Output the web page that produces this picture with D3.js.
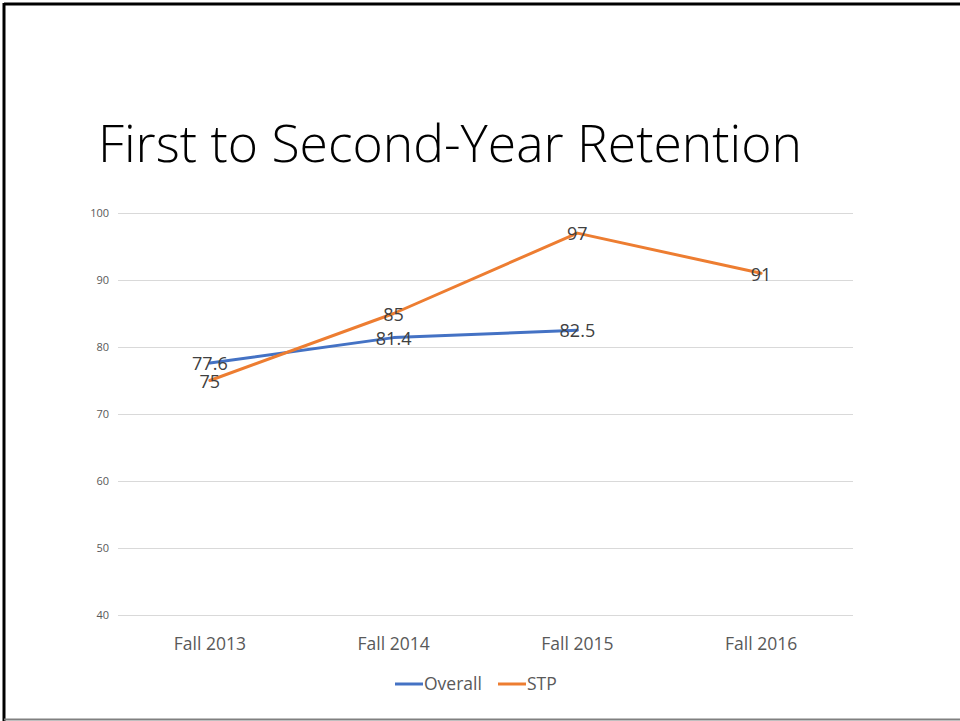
<!DOCTYPE html>
<html><head><meta charset="utf-8">
<script src="https://cdn.jsdelivr.net/npm/d3@7"></script>
<style>html,body{margin:0;padding:0;background:#fff;}svg{display:block;}</style>
</head><body>
<svg id="chart" width="960" height="721"></svg>
<script>
const categories = ["Fall 2013", "Fall 2014", "Fall 2015", "Fall 2016"];
const overall = [77.6, 81.4, 82.5, null];
const stp = [75, 85, 97, 91];
const overallLabels = ["77.6", "81.4", "82.5", null];
const stpLabels = ["75", "85", "97", "91"];
const yTicks = [40, 50, 60, 70, 80, 90, 100];
const seriesNames = ["Overall", "STP"];
const colors = ["#4472C4", "#ED7D31"];

const svg = d3.select("#chart");
const font = "'Open Sans', 'Noto Sans', sans-serif";

// frame
svg.append("line").attr("x1", 4).attr("x2", 960).attr("y1", 4).attr("y2", 4).attr("stroke", "#000").attr("stroke-width", 3);
svg.append("line").attr("x1", 4).attr("x2", 4).attr("y1", 3).attr("y2", 721).attr("stroke", "#000").attr("stroke-width", 3);
svg.append("line").attr("x1", 4).attr("x2", 960).attr("y1", 719.5).attr("y2", 719.5).attr("stroke", "#808080").attr("stroke-width", 2);

// title
svg.append("text").attr("x", 98).attr("y", 162)
  .attr("font-family", "'Open Sans', sans-serif").attr("font-weight", 300)
  .attr("font-size", 52).attr("fill", "#000")
  .attr("textLength", 704).attr("lengthAdjust", "spacingAndGlyphs")
  .text("First to Second-Year Retention");

const x = d3.scaleBand().domain(categories).range([118, 853]);
const y = d3.scaleLinear().domain([40, 100]).range([615, 213]);

// grid
const yAxis = d3.axisLeft(y).tickValues(yTicks).tickSize(-(853 - 118)).tickPadding(9);
const gy = svg.append("g").attr("transform", "translate(118,0)").call(yAxis);
gy.select(".domain").remove();
gy.selectAll(".tick line").attr("stroke", "#d9d9d9").attr("stroke-width", 1);
gy.selectAll(".tick text").attr("font-family", font).attr("font-size", 11).attr("fill", "#595959");

const xAxis = d3.axisBottom(x).tickSize(0).tickPadding(23);
const gx = svg.append("g").attr("transform", "translate(0,615)").call(xAxis);
gx.select(".domain").remove();
gx.selectAll(".tick text").attr("font-family", font).attr("font-size", 17.5).attr("fill", "#595959");

const cx = c => x(c) + x.bandwidth() / 2;
const line = d3.line().defined(d => d.v != null).x(d => cx(d.c)).y(d => y(d.v));

const series = [
  { name: seriesNames[0], values: overall, labels: overallLabels, color: colors[0] },
  { name: seriesNames[1], values: stp, labels: stpLabels, color: colors[1] }
];

series.forEach(s => {
  const pts = categories.map((c, i) => ({ c, v: s.values[i], l: s.labels[i] }));
  svg.append("path").datum(pts).attr("d", line).attr("fill", "none")
    .attr("stroke", s.color).attr("stroke-width", 3).attr("stroke-linejoin", "round").attr("stroke-linecap", "round");
});
series.forEach(s => {
  const pts = categories.map((c, i) => ({ c, v: s.values[i], l: s.labels[i] })).filter(d => d.v != null);
  svg.selectAll(null).data(pts).enter().append("text")
    .attr("x", d => cx(d.c)).attr("y", d => y(d.v)).attr("dy", "0.4em")
    .attr("text-anchor", "middle").attr("font-family", font).attr("font-size", 18).attr("fill", "#404040")
    .text(d => d.l);
});

// legend
const legend = svg.append("g");
const lx = [395, 498];
series.forEach((s, i) => {
  legend.append("line").attr("x1", lx[i]).attr("x2", lx[i] + 28).attr("y1", 684).attr("y2", 684)
    .attr("stroke", s.color).attr("stroke-width", 3);
  legend.append("text").attr("x", lx[i] + 29).attr("y", 684).attr("dy", "0.36em")
    .attr("font-family", font).attr("font-size", 17.5).attr("fill", "#595959").text(s.name);
});
</script>
</body></html>
